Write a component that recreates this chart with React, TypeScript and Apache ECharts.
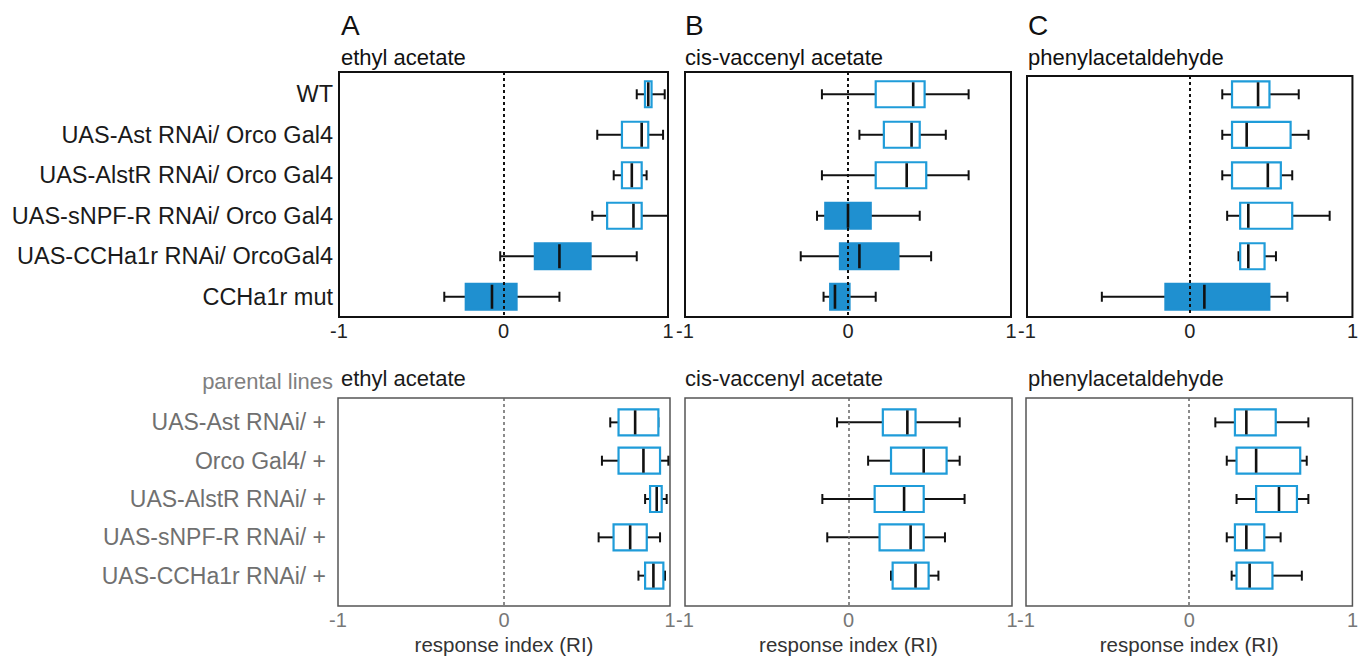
import React, { useEffect, useRef } from "react";
import * as echarts from "echarts";

const topCategories = [
  "WT",
  "UAS-Ast RNAi/ Orco Gal4",
  "UAS-AlstR RNAi/ Orco Gal4",
  "UAS-sNPF-R RNAi/ Orco Gal4",
  "UAS-CCHa1r RNAi/ OrcoGal4",
  "CCHa1r mut",
];
const bottomCategories = [
  "UAS-Ast RNAi/ +",
  "Orco Gal4/ +",
  "UAS-AlstR RNAi/ +",
  "UAS-sNPF-R RNAi/ +",
  "UAS-CCHa1r RNAi/ +",
];
const odorants = ["ethyl acetate", "cis-vaccenyl acetate", "phenylacetaldehyde"];
const panelLetters = ["A", "B", "C"];
const xTicks = [-1, 0, 1];

// [whisker low, Q1, median, Q3, whisker high]
const topEthylAcetate = [
  [0.81, 0.86, 0.88, 0.9, 0.98],
  [0.57, 0.72, 0.84, 0.88, 0.97],
  [0.67, 0.72, 0.78, 0.84, 0.87],
  [0.54, 0.63, 0.79, 0.84, 1.0],
  [-0.02, 0.19, 0.34, 0.53, 0.81],
  [-0.36, -0.23, -0.07, 0.08, 0.34],
];
const topCisVaccenyl = [
  [-0.16, 0.17, 0.4, 0.47, 0.74],
  [0.07, 0.22, 0.39, 0.44, 0.6],
  [-0.16, 0.17, 0.36, 0.48, 0.74],
  [-0.19, -0.14, 0.0, 0.14, 0.44],
  [-0.29, -0.05, 0.07, 0.31, 0.51],
  [-0.15, -0.11, -0.08, 0.01, 0.17],
];
const topPhenylacetaldehyde = [
  [0.2, 0.26, 0.42, 0.49, 0.67],
  [0.2, 0.26, 0.35, 0.62, 0.73],
  [0.2, 0.26, 0.48, 0.56, 0.63],
  [0.23, 0.31, 0.36, 0.63, 0.86],
  [0.3, 0.31, 0.36, 0.46, 0.53],
  [-0.54, -0.15, 0.09, 0.49, 0.6],
];
const topFilledEthyl = [0, 0, 0, 0, 1, 1];
const topFilledCis = [0, 0, 0, 1, 1, 1];
const topFilledPhenyl = [0, 0, 0, 0, 0, 1];

const parentalEthylAcetate = [
  [0.64, 0.69, 0.79, 0.93, 0.93],
  [0.59, 0.69, 0.84, 0.94, 0.99],
  [0.85, 0.88, 0.92, 0.95, 0.98],
  [0.57, 0.66, 0.76, 0.86, 0.94],
  [0.81, 0.85, 0.9, 0.96, 0.97],
];
const parentalCisVaccenyl = [
  [-0.07, 0.21, 0.36, 0.41, 0.68],
  [0.12, 0.26, 0.46, 0.6, 0.68],
  [-0.16, 0.16, 0.34, 0.46, 0.71],
  [-0.13, 0.19, 0.38, 0.46, 0.59],
  [0.26, 0.27, 0.41, 0.49, 0.55],
];
const parentalPhenylacetaldehyde = [
  [0.16, 0.28, 0.35, 0.53, 0.73],
  [0.23, 0.29, 0.41, 0.68, 0.72],
  [0.29, 0.41, 0.55, 0.66, 0.73],
  [0.23, 0.28, 0.35, 0.46, 0.56],
  [0.26, 0.29, 0.37, 0.51, 0.69],
];
const parentalFilled = [0, 0, 0, 0, 0];

const FONT = "'Liberation Sans', Arial, sans-serif";
const BOX_STROKE = "#1f9cd9";
const BOX_FILL = "#1f90d0";

type Panel = {
  grid: { left: number; top: number; width: number; height: number };
  stats: number[][];
  filled: number[];
  cats: string[];
  showLabels: boolean;
  top: boolean;
  yMin: number;
  yMax: number;
};

const panels: Panel[] = [
  { grid: { left: 339, top: 72, width: 329, height: 245 }, stats: topEthylAcetate, filled: topFilledEthyl, cats: topCategories, showLabels: true, top: true, yMin: -0.55, yMax: 5.5 },
  { grid: { left: 685, top: 72, width: 326, height: 245 }, stats: topCisVaccenyl, filled: topFilledCis, cats: topCategories, showLabels: false, top: true, yMin: -0.55, yMax: 5.5 },
  { grid: { left: 1027, top: 76, width: 331, height: 241 }, stats: topPhenylacetaldehyde, filled: topFilledPhenyl, cats: topCategories, showLabels: false, top: true, yMin: -0.452, yMax: 5.5 },
  { grid: { left: 338, top: 398, width: 332, height: 209 }, stats: parentalEthylAcetate, filled: parentalFilled, cats: bottomCategories, showLabels: true, top: false, yMin: -0.636, yMax: 4.792 },
  { grid: { left: 685, top: 398, width: 327, height: 209 }, stats: parentalCisVaccenyl, filled: parentalFilled, cats: bottomCategories, showLabels: false, top: false, yMin: -0.636, yMax: 4.792 },
  { grid: { left: 1026, top: 398, width: 332, height: 209 }, stats: parentalPhenylacetaldehyde, filled: parentalFilled, cats: bottomCategories, showLabels: false, top: false, yMin: -0.636, yMax: 4.792 },
];

function renderBox(params: any, api: any) {
  const row = api.value(0);
  const lo = api.coord([api.value(1), row]);
  const q1 = api.coord([api.value(2), row]);
  const md = api.coord([api.value(3), row]);
  const q3 = api.coord([api.value(4), row]);
  const hi = api.coord([api.value(5), row]);
  const filled = api.value(6) === 1;
  const y = lo[1];
  const h = 26;
  const cap = 5;
  const wStyle = { stroke: "#111", lineWidth: 2 };
  return {
    type: "group",
    children: [
      { type: "line", shape: { x1: lo[0], y1: y, x2: q1[0], y2: y }, style: wStyle },
      { type: "line", shape: { x1: q3[0], y1: y, x2: hi[0], y2: y }, style: wStyle },
      { type: "line", shape: { x1: lo[0], y1: y - cap, x2: lo[0], y2: y + cap }, style: wStyle },
      { type: "line", shape: { x1: hi[0], y1: y - cap, x2: hi[0], y2: y + cap }, style: wStyle },
      {
        type: "rect",
        shape: { x: q1[0], y: y - h / 2, width: Math.max(q3[0] - q1[0], 1), height: h },
        style: filled
          ? { fill: BOX_FILL, stroke: BOX_FILL, lineWidth: 2 }
          : { fill: "#fff", stroke: BOX_STROKE, lineWidth: 2.2 },
      },
      { type: "line", shape: { x1: md[0], y1: y - h / 2 + 1, x2: md[0], y2: y + h / 2 - 1 }, style: { stroke: "#111", lineWidth: 2.6 } },
    ],
  };
}

export default function App() {
  const ref = useRef<HTMLDivElement>(null);
  useEffect(() => {
    document.body.style.margin = "0";
    const chart = echarts.init(ref.current!, null, { renderer: "svg" });
    const grid: any[] = [];
    const xAxis: any[] = [];
    const yAxis: any[] = [];
    const series: any[] = [];
    panels.forEach((p, i) => {
      grid.push({
        ...p.grid,
        show: true,
        borderColor: p.top ? "#111" : "#555",
        borderWidth: p.top ? 2 : 1.5,
        backgroundColor: "transparent",
      });
      xAxis.push({
        type: "value",
        gridIndex: i,
        min: xTicks[0],
        max: xTicks[xTicks.length - 1],
        interval: 1,
        axisLine: { show: false },
        axisTick: { show: false },
        splitLine: { show: false },
        axisLabel: {
          showMinLabel: true,
          showMaxLabel: true,
          fontFamily: FONT,
          fontSize: 20,
          color: p.top ? "#222" : "#777",
          margin: 4,
        },
        name: p.top ? "" : "response index (RI)",
        nameLocation: "middle",
        nameGap: 28,
        nameTextStyle: { fontFamily: FONT, fontSize: 20.5, color: "#333" },
      });
      yAxis.push({
        type: "value",
        gridIndex: i,
        inverse: true,
        min: p.yMin,
        max: p.yMax,
        axisLine: { show: false },
        axisTick: { show: false },
        splitLine: { show: false },
        axisLabel: {
          show: p.showLabels,
          customValues: p.cats.map((_, k) => k),
          formatter: (v: number) => p.cats[Math.round(v)] ?? "",
          fontFamily: FONT,
          fontSize: p.top ? 23.5 : 23,
          color: p.top ? "#1a1a1a" : "#707070",
          margin: p.top ? 6 : 12,
        },
      });
      series.push({
        type: "custom",
        xAxisIndex: i,
        yAxisIndex: i,
        renderItem: renderBox,
        encode: { x: [1, 2, 3, 4, 5], y: 0 },
        data: p.stats.map((s, k) => [k, ...s, p.filled[k]]),
        clip: false,
        markLine: {
          silent: true,
          symbol: "none",
          label: { show: false },
          lineStyle: {
            type: [3, 3],
            width: p.top ? 2 : 1.5,
            color: p.top ? "#111" : "#666",
          },
          data: [{ xAxis: 0 }],
        },
      });
    });
    const graphic: any[] = [];
    const letterX = [341, 685, 1028];
    panelLetters.forEach((L, i) => {
      graphic.push({
        type: "text",
        left: letterX[i],
        top: 11,
        style: { text: L, font: `28px ${FONT}`, fill: "#111" },
      });
      graphic.push({
        type: "text",
        left: letterX[i],
        top: 46,
        style: { text: odorants[i], font: `22px ${FONT}`, fill: "#111" },
      });
      graphic.push({
        type: "text",
        left: letterX[i],
        top: 367,
        style: { text: odorants[i], font: `22px ${FONT}`, fill: "#1a1a1a" },
      });
    });
    graphic.push({
      type: "text",
      x: 333,
      y: 381,
      style: { text: "parental lines", font: `22px ${FONT}`, fill: "#808080", align: "right", verticalAlign: "middle" },
    });
    chart.setOption({
      animation: false,
      backgroundColor: "#fff",
      grid,
      xAxis,
      yAxis,
      series,
      graphic,
    });
    return () => chart.dispose();
  }, []);
  return <div ref={ref} style={{ width: 1361, height: 656 }} />;
}
